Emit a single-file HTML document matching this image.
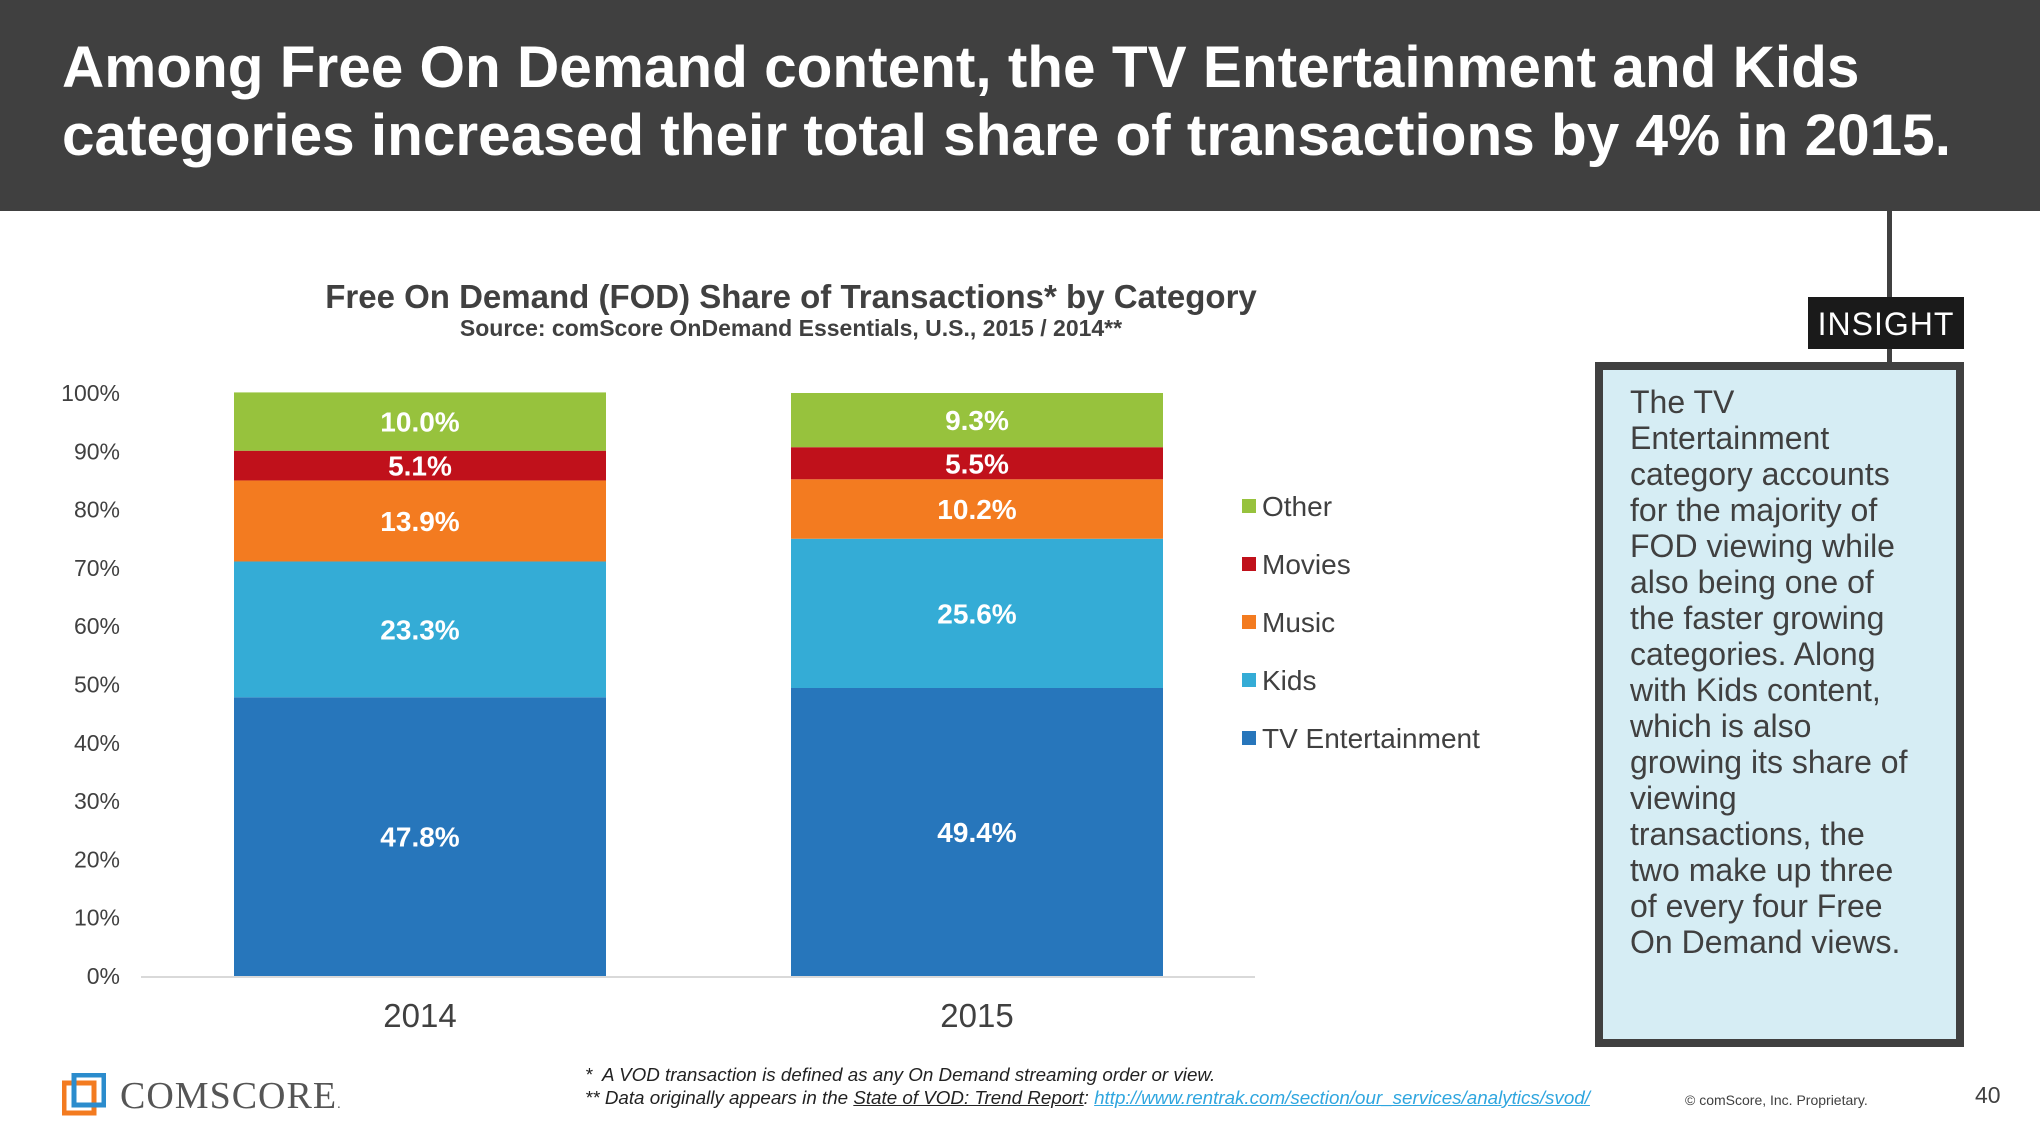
<!DOCTYPE html>
<html><head><meta charset="utf-8"><style>
body{margin:0;width:2040px;height:1148px;position:relative;background:#fff;font-family:"Liberation Sans",sans-serif;overflow:hidden}
.abs{position:absolute}
</style></head><body>
<div class="abs" style="left:0;top:0;width:2040px;height:211px;background:#404040"></div>
<div class="abs" style="left:62px;top:34px;color:#fff;font-weight:bold;font-size:58.5px;line-height:68px;white-space:nowrap">Among Free On Demand content, the TV Entertainment and Kids<br>categories increased their total share of transactions by 4% in 2015.</div>

<svg class="abs" style="left:0;top:0" width="2040" height="1148">
<text x="791" y="308" text-anchor="middle" font-size="33" font-weight="bold" fill="#404040">Free On Demand (FOD) Share of Transactions* by Category</text>
<text x="791" y="336" text-anchor="middle" font-size="23" font-weight="bold" fill="#404040">Source: comScore OnDemand Essentials, U.S., 2015 / 2014**</text>
<g id="plot"></g>
</svg>

<div class="abs" style="left:1887px;top:211px;width:5px;height:151px;background:#404040"></div>
<div class="abs" style="left:1808px;top:297px;width:156px;height:52px;background:#1a1a1a;color:#fff;font-size:32px;line-height:54px;text-align:center;letter-spacing:1px">INSIGHT</div>
<div class="abs" style="left:1595px;top:362px;width:353px;height:669px;background:#d6edf4;border:8px solid #404040"></div>
<div class="abs" style="left:1630px;top:384px;width:300px;color:#404040;font-size:32px;line-height:36px">The TV<br>Entertainment<br>category accounts<br>for the majority of<br>FOD viewing while<br>also being one of<br>the faster growing<br>categories. Along<br>with Kids content,<br>which is also<br>growing its share of<br>viewing<br>transactions, the<br>two make up three<br>of every four Free<br>On Demand views.</div>

<svg class="abs" style="left:62px;top:1073px" width="44" height="44">
<rect x="2" y="10" width="30" height="30" fill="none" stroke="#f37b20" stroke-width="5"/>
<rect x="12" y="2" width="30" height="30" fill="none" stroke="#2b8ccd" stroke-width="5"/>
</svg>
<div class="abs" style="left:120px;top:1074px;font-family:'Liberation Serif',serif;font-size:38px;color:#555;letter-spacing:1px">COMSCORE<span style="font-size:14px">.</span></div>
<div class="abs" style="left:585px;top:1063px;font-size:18.8px;font-style:italic;color:#222;line-height:23px">*&nbsp; A VOD transaction is defined as any On Demand streaming order or view.<br>** Data originally appears in the <u>State of VOD: Trend Report</u>: <u style="color:#2fa6df">http://www.rentrak.com/section/our_services/analytics/svod/</u></div>
<div class="abs" style="left:1685px;top:1092px;font-size:14px;color:#404040">© comScore, Inc. Proprietary.</div>
<div class="abs" style="left:1975px;top:1082px;font-size:23px;color:#404040">40</div>

<script>
const years = ["2014", "2015"];
const seriesNames = ["TV Entertainment", "Kids", "Music", "Movies", "Other"];
const tvEntertainment = [47.8, 49.4];
const kids = [23.3, 25.6];
const music = [13.9, 10.2];
const movies = [5.1, 5.5];
const other = [10.0, 9.3];
const yTicks = [0, 10, 20, 30, 40, 50, 60, 70, 80, 90, 100];

const series = [tvEntertainment, kids, music, movies, other];
const colors = ["#2776bb", "#34acd6", "#f37b20", "#c0111b", "#97c23d"];
const NS = "http://www.w3.org/2000/svg";
const g = document.getElementById("plot");
const y0 = 976, y100 = 393;
const yScale = v => y0 - (y0 - y100) * v / 100;
const barW = 372;
const xCenter = i => 420 + i * 557;
function mk(tag, attrs, text) {
  const e = document.createElementNS(NS, tag);
  for (const k in attrs) e.setAttribute(k, attrs[k]);
  if (text !== undefined) e.textContent = text;
  g.appendChild(e);
  return e;
}
yTicks.forEach(t => {
  const e = mk("text", {x: 120, y: yScale(t) + 8, "text-anchor": "end", "font-size": 23, fill: "#404040"}, t + "%");
  
  
});
years.forEach((yr, i) => {
  let cum = 0;
  series.forEach((s, j) => {
    const v = s[i];
    const top = yScale(cum + v), bot = yScale(cum);
    const r = mk("rect", {x: xCenter(i) - barW / 2, y: top, width: barW, height: bot - top, fill: colors[j]});
    
    
    const t = mk("text", {x: xCenter(i), y: (top + bot) / 2 + 10, "text-anchor": "middle", "font-size": 28, "font-weight": "bold", fill: "#fff"}, v.toFixed(1) + "%");
    
    
    cum += v;
  });
  const xl = mk("text", {x: xCenter(i), y: 1027, "text-anchor": "middle", "font-size": 33, fill: "#404040"}, yr);
  
  
});
const ax = mk("line", {x1: 141, x2: 1255, y1: y0 + 1, y2: y0 + 1, stroke: "#d9d9d9", "stroke-width": 2});


for (let k = 4; k >= 0; k--) {
  const ly = 507 + (4 - k) * 58;
  const sq = mk("rect", {x: 1242, y: ly - 8, width: 14, height: 14, fill: colors[k]});
  
  
  const lt = mk("text", {x: 1262, y: ly + 9, "font-size": 28, fill: "#404040"}, seriesNames[k]);
  
  
}
</script>
</body></html>
